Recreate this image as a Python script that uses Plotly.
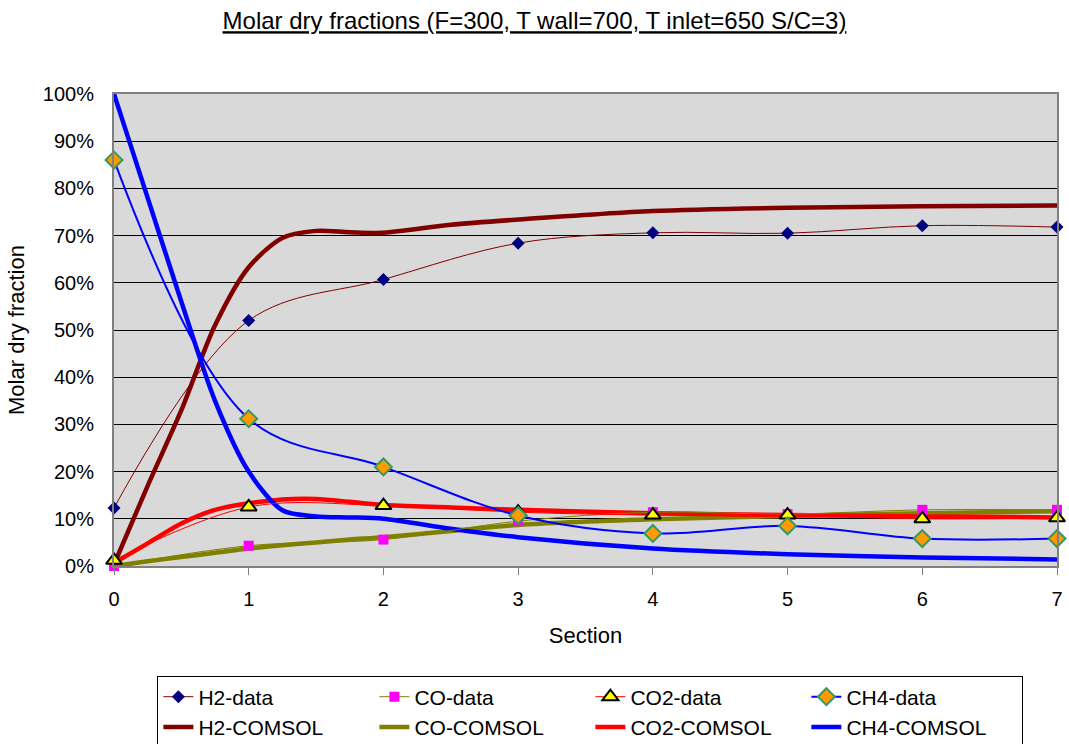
import plotly.graph_objects as go

# ---- data (percent) ----
sections = [0, 1, 2, 3, 4, 5, 6, 7]
h2_data = [12.3, 52.0, 60.7, 68.4, 70.6, 70.5, 72.1, 71.8]
co_data = [0.0, 4.3, 5.6, 9.5, 11.4, 11.0, 11.9, 11.9]
co2_data = [1.2, 12.5, 12.8, 11.4, 10.8, 10.8, 10.0, 10.2]
ch4_data = [86.0, 31.2, 21.0, 10.7, 6.9, 8.5, 5.8, 5.8]

x_comsol = [0, 0.25, 0.5, 0.75, 1, 1.25, 1.5, 1.75, 2, 2.5, 3, 4, 5, 6, 7]
h2_comsol = [0.3, 17.0, 33.0, 51.0, 63.3, 69.5, 71.0, 70.7, 70.6, 72.3, 73.4, 75.2, 75.9, 76.2, 76.4]
co_comsol = [0.0, 1.0, 1.9, 2.8, 3.7, 4.4, 5.0, 5.6, 6.1, 7.4, 8.7, 9.9, 10.6, 11.2, 11.6]
co2_comsol = [0.6, 4.8, 9.0, 11.9, 13.3, 14.1, 14.2, 13.6, 12.9, 12.4, 11.9, 11.2, 10.8, 10.5, 10.3]
ch4_comsol = [100.0, 78.0, 56.0, 35.0, 20.0, 11.8, 10.5, 10.3, 10.0, 7.9, 6.1, 3.7, 2.5, 1.8, 1.4]

y_ticks = list(range(0, 101, 10))
y_ticklabels = [f"{v}%" for v in y_ticks]
x_ticklabels = [str(s) for s in sections]

fig = go.Figure()

# COMSOL lines (drawn first)
for name, ys, col, rank in [
    ("H2-COMSOL", h2_comsol, "#800000", 5),
    ("CO-COMSOL", co_comsol, "#808000", 6),
    ("CO2-COMSOL", co2_comsol, "#FF0000", 7),
    ("CH4-COMSOL", ch4_comsol, "#0000FF", 8),
]:
    fig.add_trace(go.Scatter(x=x_comsol, y=ys, name=name, mode="lines",
                             line=dict(color=col, width=4.5, shape="spline", smoothing=0.8),
                             legendrank=rank, cliponaxis=False))

fig.add_trace(go.Scatter(x=sections, y=h2_data, name="H2-data", mode="lines+markers",
                         line=dict(color="#800000", width=1, shape="spline", smoothing=1),
                         marker=dict(symbol="diamond", size=10, color="#000080"),
                         legendrank=1, cliponaxis=False))
fig.add_trace(go.Scatter(x=sections, y=co_data, name="CO-data", mode="lines+markers",
                         line=dict(color="#808000", width=1, shape="spline", smoothing=1),
                         marker=dict(symbol="square", size=10, color="#FF00FF"),
                         legendrank=2, cliponaxis=False))
fig.add_trace(go.Scatter(x=sections, y=co2_data, name="CO2-data", mode="lines+markers",
                         line=dict(color="#FF0000", width=1, shape="spline", smoothing=1),
                         marker=dict(symbol="triangle-up", size=14, color="#FFFF00",
                                     line=dict(color="black", width=2)),
                         legendrank=3, cliponaxis=False))
fig.add_trace(go.Scatter(x=sections, y=ch4_data, name="CH4-data", mode="lines+markers",
                         line=dict(color="#0000FF", width=2, shape="spline", smoothing=1),
                         marker=dict(symbol="diamond", size=13, color="#FF9900",
                                     line=dict(color="#339966", width=2)),
                         legendrank=4, cliponaxis=False))

font = "Liberation Sans, Arial, sans-serif"
fig.update_layout(
    width=1069, height=744,
    margin=dict(l=114, r=12, t=94, b=178, autoexpand=False),
    paper_bgcolor="white",
    plot_bgcolor="#D9D9D9",
    font=dict(family=font, size=20, color="black"),
    title=dict(text="<u>Molar dry fractions (F=300, T wall=700, T inlet=650 S/C=3)</u>",
               x=0.5, xanchor="center", y=0.972, yanchor="middle",
               font=dict(family=font, size=24, color="black")),
    xaxis=dict(range=[0, 7], tickvals=sections, ticktext=x_ticklabels, automargin=False,
               ticks="outside", ticklen=7, tickcolor="#808080", ticklabelstandoff=7,
               showgrid=False, zeroline=False,
               showline=True, linecolor="#808080", linewidth=2, mirror=True,
               tickfont=dict(size=20),
               title=dict(text="Section", standoff=19, font=dict(size=22))),
    yaxis=dict(range=[0, 100], tickvals=y_ticks, ticktext=y_ticklabels, ticks="",
               automargin=False, ticklabelstandoff=14, tickfont=dict(size=20),
               showgrid=True, gridcolor="black", gridwidth=1, zeroline=False,
               showline=True, linecolor="#808080", linewidth=2, mirror=True,
               title=dict(text="Molar dry fraction", standoff=12, font=dict(size=22))),
    legend=dict(orientation="h", x=0.046, xanchor="left",
                yref="container", y=0.092, yanchor="top",
                bordercolor="black", borderwidth=1, bgcolor="white",
                entrywidth=171, entrywidthmode="pixels",
                font=dict(family=font, size=21), traceorder="normal"),
)

fig.write_html("out.html")
